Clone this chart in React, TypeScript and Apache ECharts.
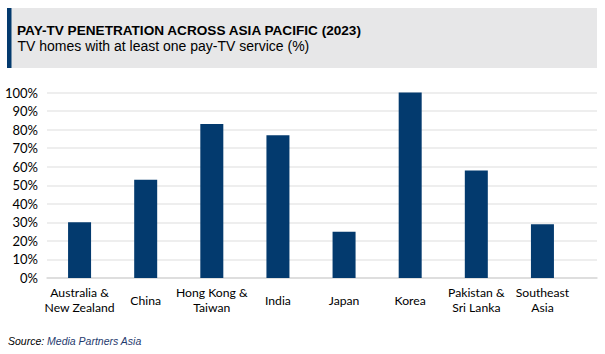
import React, { useEffect, useRef } from "react";
import * as echarts from "echarts";

const categories = [
  "Australia &\nNew Zealand",
  "China",
  "Hong Kong &\nTaiwan",
  "India",
  "Japan",
  "Korea",
  "Pakistan &\nSri Lanka",
  "Southeast\nAsia",
];
const penetration = [30, 53, 83, 77, 25, 100, 58, 29];
const yMin = 0;
const yMax = 100;
const yInterval = 10;

const titleText = "PAY-TV PENETRATION ACROSS ASIA PACIFIC (2023)";
const subtitleText = "TV homes with at least one pay-TV service (%)";

const NAVY = "#033a6e";
const NARROW = "Lato, 'Liberation Sans Narrow', sans-serif";
const ARIAL = "'Liberation Sans', Arial, sans-serif";

export default function App() {
  const ref = useRef<HTMLDivElement>(null);
  useEffect(() => {
    if (!ref.current) return;
    const chart = echarts.init(ref.current, undefined, { renderer: "svg" });
    const top = 92.5;
    const bottom = 354 - 278;
    chart.setOption({
      animation: false,
      backgroundColor: "#ffffff",
      graphic: [
        { type: "rect", shape: { x: 7, y: 8, width: 590, height: 60 }, style: { fill: "#e7e7e8" }, silent: true },
        { type: "rect", shape: { x: 7, y: 8, width: 4.5, height: 60 }, style: { fill: NAVY }, silent: true },
        {
          type: "text", x: 17, y: 30.2,
          style: { text: titleText, fill: "#000", font: `bold 13.6px ${ARIAL}`, verticalAlign: "middle" },
        },
        {
          type: "text", x: 17.5, y: 46.3,
          style: { text: subtitleText, fill: "#000", font: `14px ${ARIAL}`, verticalAlign: "middle" },
        },
        {
          type: "text", x: 8, y: 340.7,
          style: {
            text: "{a|Source: }{b|Media Partners Asia}",
            verticalAlign: "middle",
            rich: {
              a: { fill: "#000", fontStyle: "italic", fontSize: 10.5, fontFamily: ARIAL },
              b: { fill: "#1f3a6e", fontStyle: "italic", fontSize: 10.5, fontFamily: ARIAL },
            },
          },
        },
      ],
      grid: [
        { left: 47, right: 8, top, bottom, containLabel: false },
        { left: 46.5, width: 529, top, bottom, containLabel: false },
      ],
      xAxis: [
        {
          gridIndex: 0, type: "value", min: 0, max: 1, show: true,
          axisLabel: { show: false }, axisTick: { show: false }, splitLine: { show: false },
          axisLine: { show: true, lineStyle: { color: "#d9d9d9", width: 1.5 } },
        },
        {
          gridIndex: 1, type: "category", data: categories,
          axisLine: { show: false }, axisTick: { show: false },
          axisLabel: {
            interval: 0, margin: 22, verticalAlign: "middle", lineHeight: 14.5,
            color: "#000", fontSize: 12.2, fontFamily: NARROW,
          },
        },
      ],
      yAxis: [
        {
          gridIndex: 0, type: "value", min: yMin, max: yMax, interval: yInterval,
          axisLine: { show: false }, axisTick: { show: false },
          axisLabel: { formatter: "{value}%", color: "#000", fontSize: 13, fontFamily: NARROW, margin: 9 },
          splitLine: { lineStyle: { color: "#e8e8e8", width: 1.5 } },
        },
        { gridIndex: 1, type: "value", min: yMin, max: yMax, show: false },
      ],
      series: [
        {
          type: "bar", xAxisIndex: 1, yAxisIndex: 1, data: penetration, barWidth: 23,
          itemStyle: { color: NAVY },
        },
      ],
    });
    return () => chart.dispose();
  }, []);
  return (
    <div
      ref={ref}
      style={{ position: "fixed", left: 0, top: 0, width: 605, height: 354, background: "#fff" }}
    />
  );
}
